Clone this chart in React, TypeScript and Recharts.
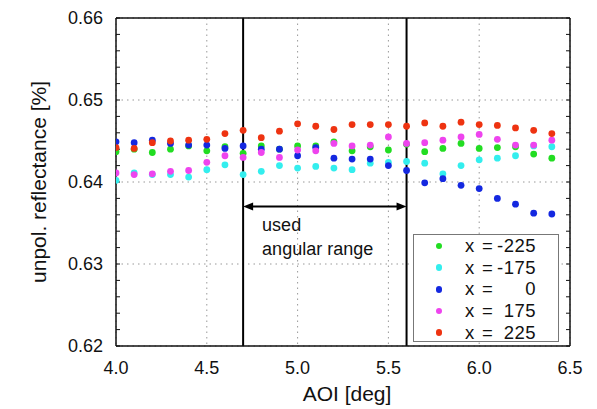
import React from 'react';
import { ScatterChart, Scatter, XAxis, YAxis, CartesianGrid, ReferenceLine, Legend, Label } from 'recharts';

const FONT = '"Liberation Sans", Arial, Helvetica, sans-serif';

// AOI [deg]
const aoi = [4.0, 4.1, 4.2, 4.3, 4.4, 4.5, 4.6, 4.7, 4.8, 4.9, 5.0, 5.1, 5.2, 5.3, 5.4, 5.5, 5.6, 5.7, 5.8, 5.9, 6.0, 6.1, 6.2, 6.3, 6.4];

const seriesNames = ['-225', '-175', '0', '175', '225'];
const seriesColors = ['#22dd22', '#33eeee', '#1428e0', '#ee44ee', '#ee3311'];

const xMinus225 = [0.6437, 0.6440, 0.6436, 0.6440, 0.6444, 0.6438, 0.6443, 0.6435, 0.6444, 0.6440, 0.6444, 0.6444, 0.6449, 0.6438, 0.6443, 0.6439, 0.6446, 0.6437, 0.6441, 0.6447, 0.6441, 0.6442, 0.6443, 0.6434, 0.6429];
const xMinus175 = [0.6402, 0.6411, 0.6409, 0.6409, 0.6406, 0.6415, 0.6421, 0.6409, 0.6413, 0.6420, 0.6417, 0.6419, 0.6417, 0.6415, 0.6423, 0.6424, 0.6425, 0.6423, 0.6410, 0.6420, 0.6427, 0.6429, 0.6432, 0.6444, 0.6443];
const xZero = [0.6449, 0.6448, 0.6451, 0.6447, 0.6445, 0.6445, 0.6441, 0.6444, 0.6440, 0.6440, 0.6432, 0.6442, 0.6429, 0.6428, 0.6428, 0.6420, 0.6414, 0.6399, 0.6404, 0.6396, 0.6392, 0.6380, 0.6373, 0.6362, 0.6361];
const xPlus175 = [0.6411, 0.6409, 0.6410, 0.6413, 0.6414, 0.6424, 0.6432, 0.6430, 0.6436, 0.6430, 0.6439, 0.6438, 0.6447, 0.6444, 0.6445, 0.6455, 0.6447, 0.6448, 0.6451, 0.6455, 0.6458, 0.6452, 0.6445, 0.6445, 0.6451];
const xPlus225 = [0.6442, 0.6441, 0.6448, 0.6450, 0.6451, 0.6452, 0.6459, 0.6463, 0.6454, 0.6462, 0.6471, 0.6468, 0.6464, 0.6470, 0.6470, 0.6470, 0.6468, 0.6472, 0.6468, 0.6473, 0.6470, 0.6469, 0.6466, 0.6463, 0.6459];

const seriesValues = [xMinus225, xMinus175, xZero, xPlus175, xPlus225];

const xTicks = [4.0, 4.5, 5.0, 5.5, 6.0, 6.5];
const yTicks = [0.62, 0.63, 0.64, 0.65, 0.66];
const xMinorTicks = [4.0, 4.1, 4.2, 4.3, 4.4, 4.5, 4.6, 4.7, 4.8, 4.9, 5.0, 5.1, 5.2, 5.3, 5.4, 5.5, 5.6, 5.7, 5.8, 5.9, 6.0, 6.1, 6.2, 6.3, 6.4, 6.5];
const yMinorTicks = [0.62, 0.622, 0.624, 0.626, 0.628, 0.63, 0.632, 0.634, 0.636, 0.638, 0.64, 0.642, 0.644, 0.646, 0.648, 0.65, 0.652, 0.654, 0.656, 0.658, 0.66];

const xDomain = [4.0, 6.5];
const yDomain = [0.62, 0.66];

const rangeStart = 4.7;
const rangeEnd = 5.6;
const arrowLevel = 0.637;
const rangeText = ['used', 'angular range'];

const makeData = (vals: number[]) => aoi.map((x, i) => ({ x, y: vals[i] }));

const ArrowShape = (p: any) => {
  const { x1, y1, x2 } = p;
  const y = y1;
  const hl = 10;
  const hw = 4;
  return (
    <g>
      <line x1={x1 + hl - 1} y1={y} x2={x2 - hl + 1} y2={y} stroke="#000" strokeWidth={2} />
      <polygon points={`${x1},${y} ${x1 + hl},${y - hw} ${x1 + hl},${y + hw}`} fill="#000" />
      <polygon points={`${x2},${y} ${x2 - hl},${y - hw} ${x2 - hl},${y + hw}`} fill="#000" />
      <text x={x1 + 19} y={y + 24} fontFamily={FONT} fontSize={18} fill="#111">{rangeText[0]}</text>
      <text x={x1 + 19} y={y + 48} fontFamily={FONT} fontSize={18} fill="#111">{rangeText[1]}</text>
    </g>
  );
};

const LegendBox = (props: any) => {
  const payload = [...(props.payload || [])].sort(
    (a: any, b: any) => seriesNames.indexOf(a.value) - seriesNames.indexOf(b.value)
  );
  return (
    <div
      style={{
        position: 'relative',
        width: 146,
        height: 108,
        boxSizing: 'border-box',
        border: '1.2px solid #777',
        background: '#fff',
        fontFamily: FONT,
        fontSize: 18.5,
        color: '#111',
      }}
    >
      {payload.map((e: any, i: number) => (
        <div key={i} style={{ position: 'absolute', left: 0, top: i * 21.7, width: '100%', height: 22 }}>
          <span
            style={{
              position: 'absolute',
              left: 25 - 3.4,
              top: 11 - 3.4,
              width: 6.8,
              height: 6.8,
              borderRadius: '50%',
              background: seriesColors[seriesNames.indexOf(e.value)] || e.color,
            }}
          />
          <span style={{ position: 'absolute', left: 51, top: 0, lineHeight: '22px', letterSpacing: 1.3 }}>x =</span>
          <span style={{ position: 'absolute', right: 22, top: 0, lineHeight: '22px', letterSpacing: 0.5 }}>{e.value}</span>
        </div>
      ))}
    </div>
  );
};

const YTitle = (p: any) => {
  const vb = p.viewBox || { x: 0, y: 18, width: 116, height: 328 };
  const cx = 38;
  const cy = vb.y + vb.height / 2;
  return (
    <text
      x={cx}
      y={cy}
      transform={`rotate(-90, ${cx}, ${cy})`}
      textAnchor="middle"
      dominantBaseline="central"
      fontFamily={FONT}
      fontSize={21}
      fill="#111"
    >
      unpol. reflectance [%]
    </text>
  );
};

const XTitle = (p: any) => {
  const vb = p.viewBox || { x: 116, y: 346, width: 454, height: 63 };
  return (
    <text x={vb.x + vb.width / 2 + 4} y={401} textAnchor="middle" fontFamily={FONT} fontSize={21} fill="#111">
      AOI [deg]
    </text>
  );
};

const emptyTick = () => <g />;

export default function App() {
  return (
    <div style={{ position: 'absolute', left: 0, top: 0, width: 597, height: 409, background: '#fff' }}>
      <ScatterChart width={597} height={409} margin={{ top: 18, right: 27, bottom: 0, left: 0 }}>
        <CartesianGrid stroke="#999" strokeDasharray="1.5 4" strokeWidth={1} />
        <XAxis
          type="number"
          dataKey="x"
          domain={xDomain}
          ticks={xTicks}
          interval={0}
          allowDataOverflow
          height={63}
          tickSize={0}
          tickMargin={15}
          tickLine={false}
          axisLine={{ stroke: '#111', strokeWidth: 1.5 }}
          tick={{ fill: '#111', fontSize: 18, fontFamily: FONT }}
          tickFormatter={(v: number) => v.toFixed(1)}
        >
          <Label content={<XTitle />} />
        </XAxis>
        <YAxis
          type="number"
          dataKey="y"
          domain={yDomain}
          ticks={yTicks}
          interval={0}
          allowDataOverflow
          width={116}
          tickSize={0}
          tickMargin={13}
          tickLine={false}
          axisLine={{ stroke: '#111', strokeWidth: 1.5 }}
          tick={{ fill: '#111', fontSize: 18, fontFamily: FONT }}
          tickFormatter={(v: number) => v.toFixed(2)}
        >
          <Label content={<YTitle />} />
        </YAxis>
        <XAxis
          xAxisId="minorBottom"
          type="number"
          domain={xDomain}
          ticks={xMinorTicks}
          interval={0}
          allowDataOverflow
          orientation="bottom"
          mirror
          tick={emptyTick}
          tickSize={4}
          tickLine={{ stroke: '#111' }}
          axisLine={false}
        />
        <XAxis
          xAxisId="minorTop"
          type="number"
          domain={xDomain}
          ticks={xMinorTicks}
          interval={0}
          allowDataOverflow
          orientation="top"
          mirror
          tick={emptyTick}
          tickSize={4}
          tickLine={{ stroke: '#111' }}
          axisLine={{ stroke: '#111', strokeWidth: 1.5 }}
        />
        <YAxis
          yAxisId="minorLeft"
          type="number"
          domain={yDomain}
          ticks={yMinorTicks}
          interval={0}
          allowDataOverflow
          orientation="left"
          mirror
          tick={emptyTick}
          tickSize={4}
          tickLine={{ stroke: '#111' }}
          axisLine={false}
        />
        <YAxis
          yAxisId="minorRight"
          type="number"
          domain={yDomain}
          ticks={yMinorTicks}
          interval={0}
          allowDataOverflow
          orientation="right"
          mirror
          tick={emptyTick}
          tickSize={4}
          tickLine={{ stroke: '#111' }}
          axisLine={{ stroke: '#111', strokeWidth: 1.5 }}
        />
        <ReferenceLine x={rangeStart} stroke="#000" strokeWidth={2} />
        <ReferenceLine x={rangeEnd} stroke="#000" strokeWidth={2} />
        <ReferenceLine
          segment={[
            { x: rangeStart, y: arrowLevel },
            { x: rangeEnd, y: arrowLevel },
          ]}
          stroke="#000"
          shape={ArrowShape}
        />
        {seriesValues.map((vals, i) => (
          <Scatter
            key={seriesNames[i]}
            name={seriesNames[i]}
            data={makeData(vals)}
            fill={seriesColors[i]}
            isAnimationActive={false}
            shape={(p: any) => <circle cx={p.cx} cy={p.cy} r={3.4} fill={seriesColors[i]} />}
          />
        ))}
        <Legend
          layout="vertical"
          align="center"
          verticalAlign="middle"
          content={<LegendBox />}
          wrapperStyle={{ position: 'absolute', left: 413, top: 234, width: 146, height: 108 }}
        />
      </ScatterChart>
    </div>
  );
}
